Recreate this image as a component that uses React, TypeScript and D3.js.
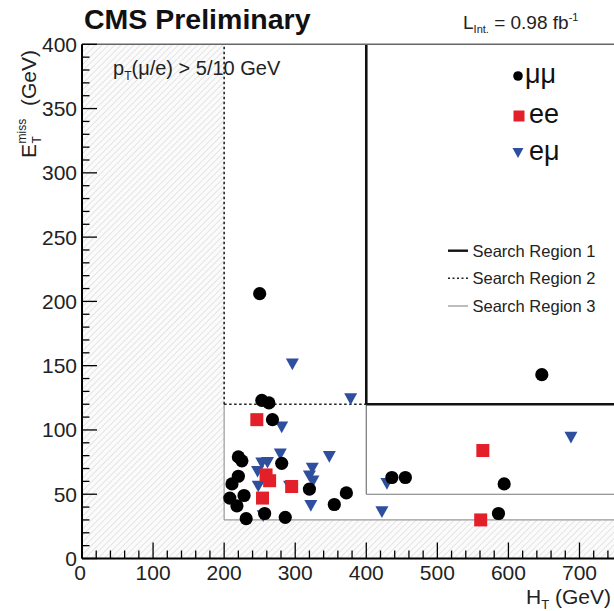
import React from "react";
import * as d3 from "d3";

// ---- data (HT [GeV], MET [GeV]) ----
const mumuHT = [250, 253, 263, 268, 220, 225, 281, 220, 211, 208, 228, 218, 231, 257, 286, 320, 355, 372, 436, 455, 647, 594, 586];
const mumuMET = [206, 123, 121, 108, 79, 76, 74, 64, 58, 47, 49, 41, 31, 35, 32, 54, 42, 51, 63, 63, 143, 58, 35];

const eeHT = [246, 259, 264, 295, 254, 564, 561];
const eeMET = [108, 65, 60.5, 56, 47, 84, 30];

const emuHT = [296, 378, 281, 348, 279, 253, 261, 247, 324, 320, 325, 248, 292, 322, 429, 422, 688, 255];
const emuMET = [151, 124, 102, 79, 81, 74, 74.5, 67.5, 70, 64, 60, 56, 56, 41, 58, 36, 94, 33];

const xTicks = [0, 100, 200, 300, 400, 500, 600, 700];
const yTicks = [0, 50, 100, 150, 200, 250, 300, 350, 400];

const legendSeries = ["\u03bc\u03bc", "ee", "e\u03bc"];
const legendRegions = ["Search Region 1", "Search Region 2", "Search Region 3"];

const FONT = "'Liberation Sans', Arial, Helvetica, sans-serif";
const RED = "#e3202a";
const BLUE = "#2e4f9e";

export default function App() {
  const x = d3.scaleLinear().domain([0, 800]).range([82, 82 + 800 * 0.7107]);
  const y = d3.scaleLinear().domain([0, 400]).range([558.5, 44.3]);

  const xMinor = d3.range(0, 801, 20);
  const yMinor = d3.range(0, 401, 10);

  const tri = (cx: number, cy: number, w: number) => {
    const h = w * 0.9;
    return `M${cx - w / 2},${cy - h / 2}L${cx + w / 2},${cy - h / 2}L${cx},${cy + h / 2}Z`;
  };

  const hatchPath =
    `M${x(0)},${y(0)}L${x(0)},${y(400)}L${x(200)},${y(400)}L${x(200)},${y(30)}` +
    `L${x(800)},${y(30)}L${x(800)},${y(0)}Z`;

  return (
    <div style={{ position: "fixed", left: 0, top: 0 }}>
      <svg width={614} height={611} style={{ display: "block", background: "#fff" }} fontFamily={FONT}>
        <defs>
          <pattern id="hatch" patternUnits="userSpaceOnUse" width={4.5} height={4.5} patternTransform="rotate(45)">
            <line x1={0} y1={0} x2={0} y2={4.5} stroke="#d2d2d2" strokeWidth={1.1} />
          </pattern>
          <clipPath id="plot">
            <rect x={x(0)} y={y(400)} width={x(800) - x(0)} height={y(0) - y(400)} />
          </clipPath>
        </defs>

        {/* hatched excluded area */}
        <path d={hatchPath} fill="#fbfbfb" />
        <path d={hatchPath} fill="url(#hatch)" />

        <g clipPath="url(#plot)" fill="none">
          {/* preselection boundary */}
          <line x1={x(200)} y1={y(30)} x2={x(200)} y2={y(120)} stroke="#999" strokeWidth={1.2} />
          <line x1={x(200)} y1={y(30)} x2={x(800)} y2={y(30)} stroke="#999" strokeWidth={1.2} />
          {/* search region 3 */}
          <line x1={x(400)} y1={y(50)} x2={x(400)} y2={y(120)} stroke="#777" strokeWidth={1.2} />
          <line x1={x(400)} y1={y(50)} x2={x(800)} y2={y(50)} stroke="#777" strokeWidth={1.2} />
          {/* search region 2 */}
          <line x1={x(200)} y1={y(120)} x2={x(200)} y2={y(400)} stroke="#222" strokeWidth={1.6} strokeDasharray="2.5,2.5" />
          <line x1={x(200)} y1={y(120)} x2={x(400)} y2={y(120)} stroke="#222" strokeWidth={1.6} strokeDasharray="2.5,2.5" />
          {/* search region 1 */}
          <line x1={x(400)} y1={y(120)} x2={x(400)} y2={y(400)} stroke="#111" strokeWidth={2.6} />
          <line x1={x(400)} y1={y(120)} x2={x(800)} y2={y(120)} stroke="#111" strokeWidth={2.6} />
        </g>

        {/* data markers */}
        <g>
          {emuHT.map((v, i) => (
            <path key={"t" + i} d={tri(x(v), y(emuMET[i]), 13)} fill={BLUE} />
          ))}
          {eeHT.map((v, i) => (
            <rect key={"s" + i} x={x(v) - 6.5} y={y(eeMET[i]) - 6.5} width={13} height={13} fill={RED} />
          ))}
          {mumuHT.map((v, i) => (
            <circle key={"c" + i} cx={x(v)} cy={y(mumuMET[i])} r={6.6} fill="#000" />
          ))}
        </g>

        {/* frame top */}
        <line x1={x(0)} y1={y(400)} x2={614} y2={y(400)} stroke="#666" strokeWidth={1.4} />

        {/* axes */}
        <g stroke="#000">
          <line x1={x(0)} y1={y(0)} x2={x(0)} y2={y(400)} strokeWidth={2} />
          <line x1={x(0)} y1={y(0)} x2={x(800)} y2={y(0)} strokeWidth={2} />
          {xMinor.map((v) => (
            <line key={"xm" + v} x1={x(v)} x2={x(v)} y1={y(0)} y2={y(0) - (v % 100 === 0 ? 16 : 8)} strokeWidth={1.3} />
          ))}
          {yMinor.map((v) => (
            <line key={"ym" + v} y1={y(v)} y2={y(v)} x1={x(0)} x2={x(0) + (v % 50 === 0 ? 15 : 7.5)} strokeWidth={1.3} />
          ))}
        </g>
        <g fontSize={21} fill="#222">
          {xTicks.map((v) => (
            <text key={"xl" + v} x={x(v) - (v === 0 ? 2 : 0)} y={580} textAnchor="middle">
              {v}
            </text>
          ))}
          {yTicks.map((v) => (
            <text key={"yl" + v} x={77} y={y(v) + 7.5} textAnchor="end">
              {v}
            </text>
          ))}
        </g>

        {/* axis titles */}
        <text x={611} y={604} textAnchor="end" fontSize={21} fill="#222">
          H<tspan fontSize={13} dy={5}>T</tspan>
          <tspan fontSize={21} dy={-5}> (GeV)</tspan>
        </text>
        <g transform="translate(36,158) rotate(-90)" fill="#222">
          <text x={0} y={0} fontSize={21}>E</text>
          <text x={14.5} y={5} fontSize={12}>T</text>
          <text x={14.5} y={-10} fontSize={12}>miss</text>
          <text x={52} y={0} fontSize={21}>(GeV)</text>
        </g>

        {/* titles */}
        <text x={84} y={29} fontSize={28.5} fontWeight="bold" fill="#111">CMS Preliminary</text>
        <text x={463} y={28.5} fontSize={19} fill="#222">
          L<tspan fontSize={11} dy={4}>Int.</tspan>
          <tspan fontSize={19} dy={-4}> = 0.98 fb</tspan>
          <tspan fontSize={11} dy={-8}>-1</tspan>
        </text>
        <text x={113} y={75} fontSize={20} fill="#222">
          p<tspan fontSize={12} dy={5}>T</tspan>
          <tspan fontSize={20} dy={-5}>({"\u03bc"}/e) &gt; 5/10 GeV</tspan>
        </text>

        {/* legend: series */}
        <g fontSize={27} fill="#111">
          <circle cx={518} cy={76} r={4.8} fill="#000" />
          <text x={525} y={83}>{legendSeries[0]}</text>
          <rect x={513.5} y={110.5} width={11} height={11} fill={RED} />
          <text x={529} y={123}>{legendSeries[1]}</text>
          <path d={tri(518, 153, 11)} fill={BLUE} />
          <text x={529} y={160}>{legendSeries[2]}</text>
        </g>

        {/* legend: regions */}
        <g fontSize={16.5} fill="#222">
          <line x1={448} x2={468} y1={250.7} y2={250.7} stroke="#111" strokeWidth={2.4} />
          <text x={472.5} y={256.5}>{legendRegions[0]}</text>
          <line x1={448} x2={468} y1={278.3} y2={278.3} stroke="#222" strokeWidth={1.5} strokeDasharray="2,2.5" />
          <text x={472.5} y={284}>{legendRegions[1]}</text>
          <line x1={448} x2={468} y1={306} y2={306} stroke="#888" strokeWidth={1.1} />
          <text x={472.5} y={311.7}>{legendRegions[2]}</text>
        </g>
      </svg>
    </div>
  );
}
